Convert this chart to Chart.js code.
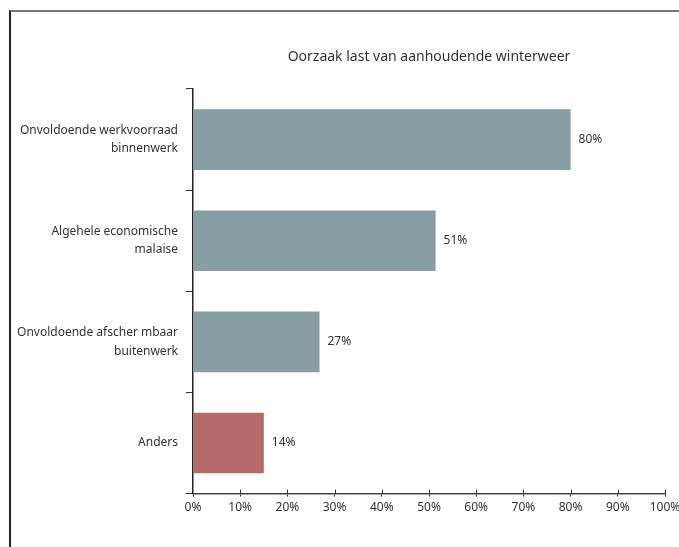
<!DOCTYPE html>
<html>
<head>
<meta charset="utf-8">
<script src="https://cdn.jsdelivr.net/npm/chart.js@4"></script>
<style>
    html, body { margin: 0; padding: 0; background: #fff; }
    #wrap { position: relative; width: 679px; height: 547px; }
    #frame { position: absolute; left: 9px; top: 10px; right: 0; bottom: 0;
             border-left: 2px solid #222; border-top: 2px solid #7a7a7a; }
    canvas { position: absolute; left: 0; top: 0; }
</style>
</head>
<body>
<div id="wrap">
    <div id="frame"></div>
    <canvas id="causeChart" width="679" height="547"></canvas>
</div>
<script>
const chartTitle = 'Oorzaak last van aanhoudende winterweer';
const categories = [
    ['Onvoldoende werkvoorraad', 'binnenwerk'],
    ['Algehele economische', 'malaise'],
    ['Onvoldoende afscher mbaar', 'buitenwerk'],
    'Anders'
];
const shares = [80, 51.4, 26.8, 15];
const shareLabels = ['80%', '51%', '27%', '14%'];
const barColors = ['#879ea2', '#879ea2', '#879ea2', '#b56b69'];
const xTicks = [0, 10, 20, 30, 40, 50, 60, 70, 80, 90, 100];

const textColor = '#333';
const fontFamily = '"Noto Sans", sans-serif';

// title centred over the plot area, value labels right of each bar,
// and the short upward half of the x-axis tick marks
const annotations = {
    id: 'annotations',
    afterDatasetsDraw(chart) {
        const ctx = chart.ctx;
        const area = chart.chartArea;
        const meta = chart.getDatasetMeta(0);
        const xScale = chart.scales.x;
        ctx.save();
        ctx.fillStyle = textColor;

        ctx.font = '14px ' + fontFamily;
        ctx.textAlign = 'center';
        ctx.textBaseline = 'middle';
        ctx.fillText(chartTitle, (area.left + area.right) / 2, 57);

        ctx.font = '12px ' + fontFamily;
        ctx.textAlign = 'left';
        meta.data.forEach((bar, i) => {
            ctx.fillText(shareLabels[i], bar.x + 8, bar.y);
        });

        ctx.strokeStyle = '#333';
        ctx.lineWidth = 1;
        xTicks.forEach(v => {
            if (v === 0) return;
            const px = Math.round(xScale.getPixelForValue(v)) + 0.5;
            ctx.beginPath();
            ctx.moveTo(px, area.bottom - 4);
            ctx.lineTo(px, area.bottom);
            ctx.stroke();
        });
        ctx.restore();
    }
};

const ctx = document.getElementById('causeChart').getContext('2d');
const causeChart = new Chart(ctx, {
    type: 'bar',
    data: {
        labels: categories,
        datasets: [{
            data: shares,
            backgroundColor: barColors,
            borderWidth: 0,
            barPercentage: 0.6,
            categoryPercentage: 1
        }]
    },
    options: {
        indexAxis: 'y',
        responsive: false,
        animation: false,
        layout: {
            padding: { left: 0, right: 14, top: 89, bottom: 28 }
        },
        plugins: {
            legend: { display: false },
            tooltip: { enabled: false },
            title: { display: false }
        },
        scales: {
            x: {
                min: 0,
                max: 100,
                afterBuildTicks: scale => {
                    scale.ticks = xTicks.map(v => ({ value: v }));
                },
                afterFit: scale => {
                    scale.paddingLeft = 0;
                    scale.paddingRight = 0;
                },
                ticks: {
                    color: textColor,
                    font: { family: fontFamily, size: 12 },
                    padding: 4,
                    callback: v => v + '%'
                },
                grid: {
                    drawOnChartArea: false,
                    tickLength: 3,
                    color: '#333',
                    lineWidth: 1
                },
                border: { color: '#444', width: 1.5 }
            },
            y: {
                afterFit: scale => { scale.width = 193; },
                ticks: {
                    color: textColor,
                    font: { family: fontFamily, size: 12, lineHeight: 1.55 },
                    padding: 8
                },
                grid: {
                    drawOnChartArea: false,
                    offset: true,
                    tickLength: 7,
                    color: '#333',
                    lineWidth: 1
                },
                border: { color: '#222', width: 1.5 }
            }
        }
    },
    plugins: [annotations]
});
</script>
</body>
</html>
